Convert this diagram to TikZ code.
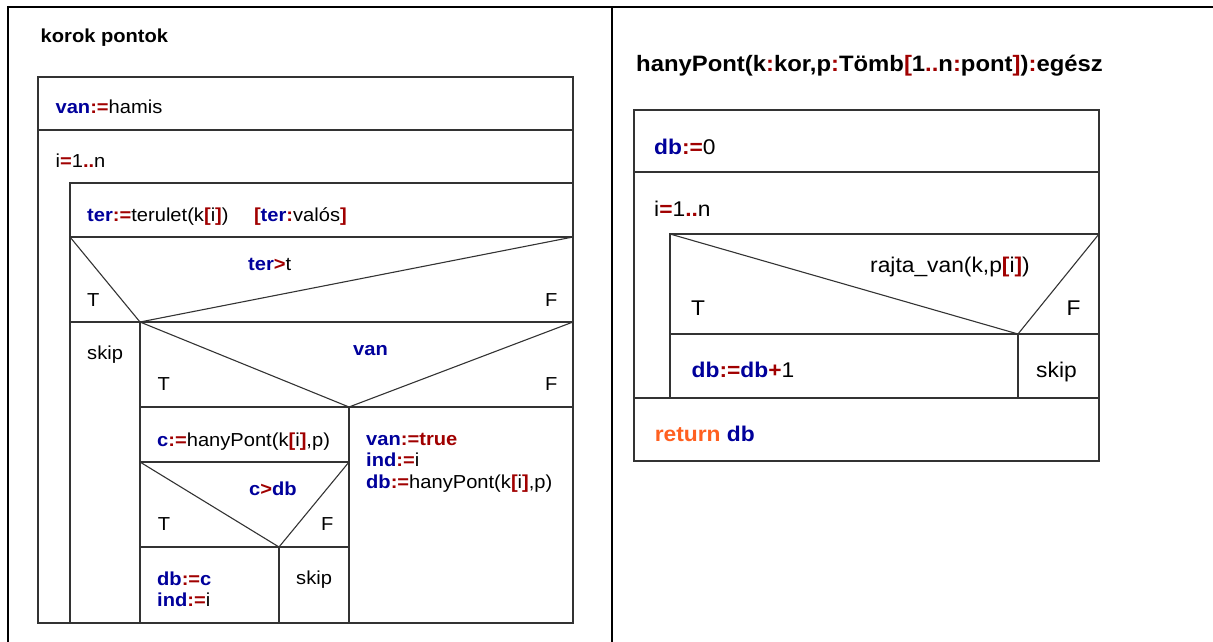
\documentclass[tikz,border=0pt]{standalone}
\usepackage{fontspec}
\setmainfont{Liberation Sans}[FakeStretch=1.07]
\definecolor{nsblue}{RGB}{0,0,155}
\definecolor{nsred}{RGB}{160,0,0}
\definecolor{nsorange}{RGB}{255,96,32}
\newcommand\bl[1]{\textbf{\color{nsblue}#1}}
\newcommand\rd[1]{\textbf{\color{nsred}#1}}
\newcommand\og[1]{\textbf{\color{nsorange}#1}}
\tikzset{
  txt/.style={font=\fontsize{18.8}{22}\selectfont, inner sep=0pt, anchor=base west},
  ttl/.style={txt, font=\fontsize{18.8}{22}\selectfont\bfseries},
  rtxt/.style={txt, font=\fontsize{21.3}{25}\selectfont},
  rttl/.style={txt, font=\fontsize{22.3}{26}\selectfont\bfseries},
  cell/.style={draw=black!80, line width=1.1pt},
  frame/.style={draw=black, line width=2.6pt}
}
\begin{document}
\begin{tikzpicture}[x=1pt,y=-1pt]
\useasboundingbox (0,0) rectangle (1213,642);
% page frame
\draw[frame] (7,7) -- (1213,7);
\draw[frame] (8,6) -- (8,642);
\draw[frame] (612,7) -- (612,642);

% ---------------- left structogram ----------------
\coordinate (L1) at (38,77);
\coordinate (L2) at (573,623);
\coordinate (La) at (38,130);  \coordinate (Lb) at (573,130);
\coordinate (Li) at (70,183);
\coordinate (Lc) at (70,237);  \coordinate (Ld) at (573,237);
\coordinate (P1) at (140,322);
\coordinate (Le) at (70,322);  \coordinate (Lf) at (573,322);
\coordinate (Pb1) at (140,623);
\coordinate (P2) at (349,407);
\coordinate (Lg) at (140,407); \coordinate (Lh) at (573,407);
\coordinate (Pb2) at (349,623);
\coordinate (Lj) at (140,462); \coordinate (Lk) at (349,462);
\coordinate (P3) at (279,547);
\coordinate (Ll) at (140,547); \coordinate (Lm) at (349,547);
\coordinate (Pb3) at (279,623);

\draw[cell] (L1) rectangle (L2);
\draw[cell] (La) -- (Lb);
\draw[cell] (Li) rectangle (L2);
\draw[cell] (Lc) -- (Ld);
\draw[cell] (Lc) -- (P1) -- (Ld);
\draw[cell] (Le) -- (Lf);
\draw[cell] (P1) -- (Pb1);
\draw[cell] (P1) -- (P2) -- (Lf);
\draw[cell] (Lg) -- (Lh);
\draw[cell] (P2) -- (Pb2);
\draw[cell] (Lj) -- (Lk);
\draw[cell] (Lj) -- (P3) -- (Lk);
\draw[cell] (Ll) -- (Lm);
\draw[cell] (P3) -- (Pb3);

\node[ttl] (t1) at (40.5,42.7) {korok pontok};
\node[txt] (s1) at (55.4,113.3) {\bl{van}\rd{:=}hamis};
\node[txt] (s2) at (55.4,167.7) {i\rd{=}1\rd{..}n};
\node[txt] (s3) at (87,221) {\bl{ter}\rd{:=}terulet(k\rd{[}i\rd{]})};
\node[txt] (s4) at (253.8,221) {\rd{[}\bl{ter}\rd{:}valós\rd{]}};
\node[txt] (d1) at (248,270) {\bl{ter}\rd{>}t};
\node[txt] (d1t) at (87,306) {T};
\node[txt] (d1f) at (545,306) {F};
\node[txt] (s5) at (87,359) {skip};
\node[txt] (d2) at (353,355) {\bl{van}};
\node[txt] (d2t) at (157.5,390) {T};
\node[txt] (d2f) at (545,390) {F};
\node[txt] (s6) at (157,446) {\bl{c}\rd{:=}hanyPont(k\rd{[}i\rd{]},p)};
\node[txt] (s7) at (366,445) {\bl{van}\rd{:=true}};
\node[txt] (s8) at (366,466.5) {\bl{ind}\rd{:=}i};
\node[txt] (s9) at (366,488) {\bl{db}\rd{:=}hanyPont(k\rd{[}i\rd{]},p)};
\node[txt] (d3) at (249,495) {\bl{c}\rd{>}\bl{db}};
\node[txt] (d3t) at (157.7,530) {T};
\node[txt] (d3f) at (321,530) {F};
\node[txt] (s10) at (157,585) {\bl{db}\rd{:=}\bl{c}};
\node[txt] (s11) at (157,606) {\bl{ind}\rd{:=}i};
\node[txt] (s12) at (296,584) {skip};

% ---------------- right structogram ----------------
\coordinate (R1) at (634,110);
\coordinate (R2) at (1099,461);
\coordinate (Ra) at (634,172); \coordinate (Rb) at (1099,172);
\coordinate (Ri) at (670,234); \coordinate (Rj) at (1099,398);
\coordinate (Rc) at (634,398);
\coordinate (Q1) at (1018,334);
\coordinate (Rd) at (670,334); \coordinate (Re) at (1099,334);
\coordinate (Qb) at (1018,398);
\coordinate (Rt) at (1099,234);

\draw[cell] (R1) rectangle (R2);
\draw[cell] (Ra) -- (Rb);
\draw[cell] (Ri) rectangle (Rj);
\draw[cell] (Rc) -- (Rj);
\draw[cell] (Ri) -- (Q1) -- (Rt);
\draw[cell] (Rd) -- (Re);
\draw[cell] (Q1) -- (Qb);

\node[rttl] (t2) at (636,71) {hanyPont(k\rd{:}kor,p\rd{:}Tömb\rd{[}1\rd{..}n\rd{:}pont\rd{]})\rd{:}egész};
\node[rtxt] (r1) at (654,154) {\bl{db}\rd{:=}0};
\node[rtxt] (r2) at (654,216.7) {i\rd{=}1\rd{..}n};
\node[rtxt] (r3) at (870,272.7) {rajta\_van(k,p\rd{[}i\rd{]})};
\node[rtxt] (r3t) at (691,315.7) {T};
\node[rtxt] (r3f) at (1066.5,315.7) {F};
\node[rtxt] (r4) at (691.5,377.7) {\bl{db}\rd{:=}\bl{db}\rd{+}1};
\node[rtxt] (r5) at (1036,377.7) {skip};
\node[rtxt] (r6) at (654.6,441.7) {\og{return} \bl{db}};
\end{tikzpicture}
\end{document}
